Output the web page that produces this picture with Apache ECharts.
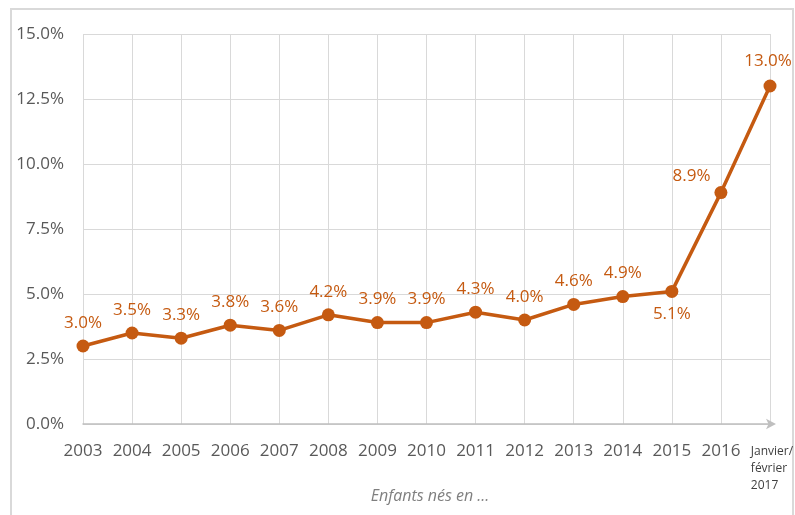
<!DOCTYPE html>
<html><head><meta charset="utf-8">
<script src="https://cdn.jsdelivr.net/npm/echarts@6/dist/echarts.min.js"></script>
<style>html,body{margin:0;padding:0;background:#fff}#c{width:795px;height:515px}</style>
</head><body><div id="c"></div>
<script>
var categories = ['2003','2004','2005','2006','2007','2008','2009','2010','2011','2012','2013','2014','2015','2016','Janvier/\nfévrier\n2017'];
var values = [3.0,3.5,3.3,3.8,3.6,4.2,3.9,3.9,4.3,4.0,4.6,4.9,5.1,8.9,13.0];
var yTicks = [0,2.5,5,7.5,10,12.5,15];
var axisTitle = 'Enfants nés en ...';
var ORANGE = '#C55A11';
var FONT = 'Open Sans';
var chart = echarts.init(document.getElementById('c'));
var data = values.map(function(v,i){
  var d = {value:v};
  if (i === 12) d.label = {position:'bottom', distance:8};
  if (i === 13) d.label = {position:'left', offset:[0,-16], distance:4};
  if (i === 14) d.label = {position:'top', offset:[-2,0], distance:10};
  return d;
});
chart.setOption({
  animation:false,
  graphic:[
    {type:'rect', shape:{x:11,y:9,width:782,height:520}, style:{fill:'none', stroke:'#D9D9D9', lineWidth:2}, silent:true},
    {type:'text', x:430, y:496, style:{text:axisTitle, fontFamily:FONT, fontStyle:'italic', fontSize:16, fill:'#7F7F7F', align:'center', verticalAlign:'middle'}, silent:true}
  ],
  grid:{left:83, right:25, top:34, bottom:91, outerBoundsMode:'none', containLabel:false},
  xAxis:{
    type:'category', data:categories, boundaryGap:false,
    axisLine:{show:true, lineStyle:{color:'#BFBFBF', width:1.5}, symbol:['none','arrow'], symbolSize:[8,10], symbolOffset:[0,6]},
    axisTick:{show:false},
    splitLine:{show:true, lineStyle:{color:'#D9D9D9', width:1}},
    axisLabel:{
      fontFamily:FONT, fontSize:17, color:'#595959', margin:19, interval:0,
      formatter:function(v,i){ return i===categories.length-1 ? '{s|'+v.split('\n').join('}\n{s|')+'}' : v; },
      rich:{s:{fontFamily:FONT, fontSize:12, color:'#404040', lineHeight:17, align:'left', padding:[0,0,0,4]}}
    }
  },
  yAxis:{
    type:'value', min:0, max:15, interval:2.5,
    axisLine:{show:false}, axisTick:{show:false},
    splitLine:{lineStyle:{color:'#D9D9D9', width:1}},
    axisLabel:{fontFamily:FONT, fontSize:17, color:'#595959', margin:19,
      formatter:function(v){ return yTicks.indexOf(v)>=0 ? v.toFixed(1)+'%' : ''; }}
  },
  series:[{
    type:'line', data:data, color:ORANGE,
    lineStyle:{color:ORANGE, width:3.5},
    symbol:'circle', symbolSize:13, itemStyle:{color:ORANGE},
    label:{show:true, position:'top', distance:8, fontFamily:FONT, fontSize:17, color:ORANGE,
      formatter:function(p){ return p.value.toFixed(1)+'%'; }}
  }]
});
</script></body></html>
